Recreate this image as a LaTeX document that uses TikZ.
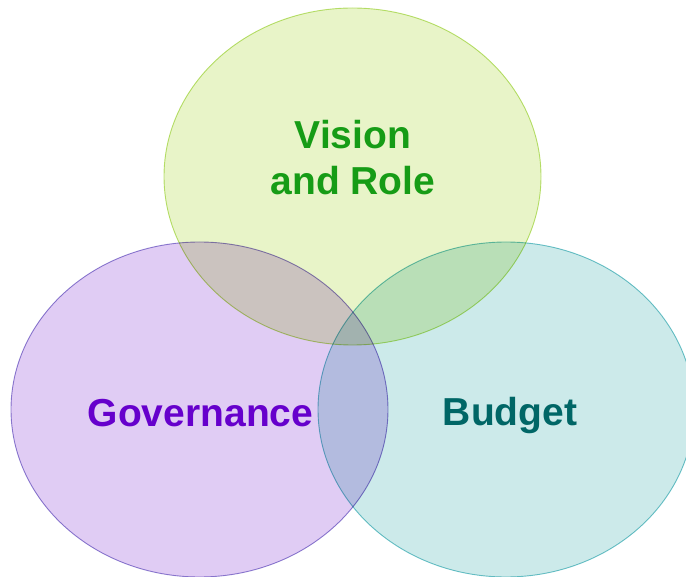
\documentclass[tikz,border=0pt]{standalone}
\usepackage{fontspec}
\setmainfont{Liberation Sans}
\definecolor{visionfill}{RGB}{232,244,200}
\definecolor{visionline}{RGB}{190,226,116}
\definecolor{visiontext}{RGB}{22,156,22}
\definecolor{govfill}{RGB}{224,204,244}
\definecolor{govline}{RGB}{146,132,210}
\definecolor{govtext}{RGB}{102,0,204}
\definecolor{budgetfill}{RGB}{204,234,234}
\definecolor{budgetline}{RGB}{112,198,204}
\definecolor{budgettext}{RGB}{0,102,102}

\begin{document}
\begin{tikzpicture}[x=1pt,y=-1pt,
    every node/.style={font=\fontsize{39}{46}\selectfont\bfseries,align=center},
    blob/.style={line width=0.9pt}]
\useasboundingbox (0,0) rectangle (686,577);
\begin{scope}[blend mode=multiply]
  \draw[blob,draw=visionline,fill=visionfill] (352.5,176.5) ellipse [x radius=188.5,y radius=168.5];
  \draw[blob,draw=govline,fill=govfill] (199.5,409.5) ellipse [x radius=188.5,y radius=167.5];
  \draw[blob,draw=budgetline,fill=budgetfill] (506,409.5) ellipse [x radius=188,y radius=167.5];
\end{scope}
\node[text=visiontext] (vision) at (353,158) {Vision\\and Role};
\node[text=govtext,anchor=base] (gov) at (200.5,427) {Governance};
\node[text=budgettext,anchor=base] (budget) at (510,425) {Budget};
\end{tikzpicture}
\end{document}
